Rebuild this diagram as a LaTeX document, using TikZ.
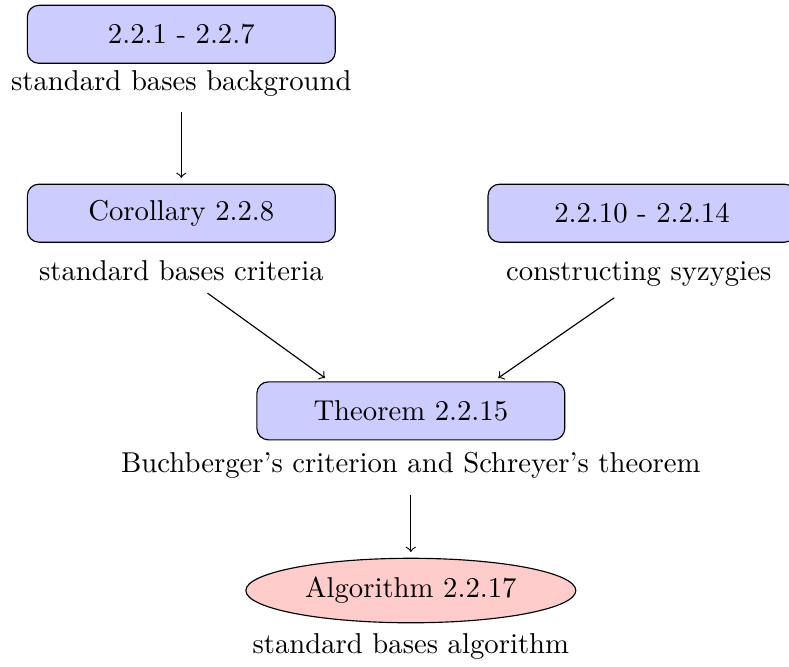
\documentclass[tikz,border=0pt]{standalone}
\usetikzlibrary{shapes.geometric}
\usetikzlibrary{arrows}

\begin{document}
\begin{tikzpicture}[
    box/.style={draw,rounded corners,fill=blue!20,minimum width=3.77cm,minimum height=0.71cm},
    algo/.style={draw,ellipse,fill=red!20,minimum width=4.04cm,minimum height=0.66cm}]
    \useasboundingbox (0,0) rectangle (9.66,-8.16);
    % results
    \node[box] (bg) at (2.22,-0.42) {2.2.1 - 2.2.7};
    \node (bgtxt) at (2.22,-1.02) {standard bases background};
    \node[box] (cor) at (2.22,-2.61) {Corollary 2.2.8};
    \node (cortxt) at (2.22,-3.31) {standard bases criteria};
    \node[box] (syz) at (7.86,-2.61) {2.2.10 - 2.2.14};
    \node (syztxt) at (7.82,-3.35) {constructing syzygies};
    \node[box] (thm) at (5.03,-5.03) {Theorem 2.2.15};
    \node (thmtxt) at (5.03,-5.70) {Buchberger's criterion and Schreyer's theorem};
    \node[algo] (alg) at (5.03,-7.23) {Algorithm 2.2.17};
    \node (algtxt) at (5.03,-7.91) {standard bases algorithm};
    %
    \draw[->,shorten <=2pt,shorten >=2pt] (bgtxt) -- (cor);
    \draw[->] ([xshift=0.32cm,yshift=-0.03cm]cortxt.south) -- ([xshift=-1.05cm,yshift=0.04cm]thm.north);
    \draw[->] ([xshift=-0.3cm,yshift=-0.02cm]syztxt.south) -- ([xshift=1.07cm,yshift=0.04cm]thm.north);
    \draw[->,shorten <=2pt,shorten >=2pt] (thmtxt) -- (alg);
\end{tikzpicture}
\end{document}
